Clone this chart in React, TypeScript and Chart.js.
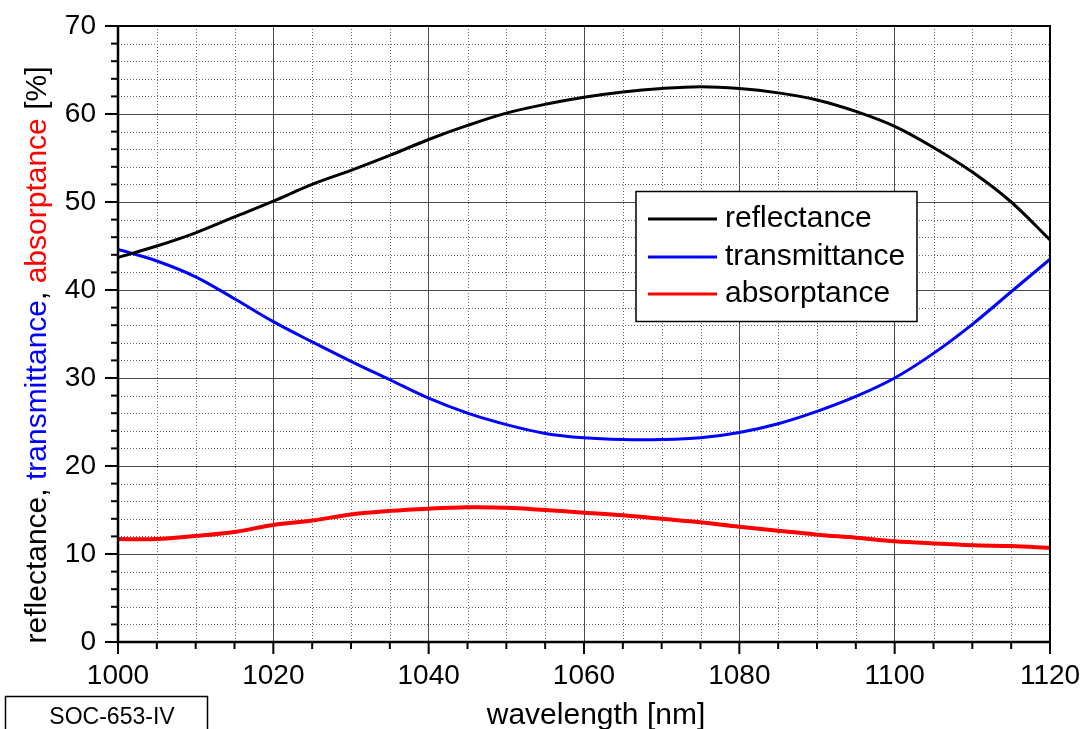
import React, { useEffect, useRef } from 'react';
import { Chart, registerables } from 'chart.js';

Chart.register(...registerables);

// ---- data ----
const wavelengths = [1000, 1005, 1010, 1015, 1020, 1025, 1030, 1035, 1040, 1045, 1050, 1055, 1060, 1065, 1070, 1075, 1080, 1085, 1090, 1095, 1100, 1105, 1110, 1115, 1120];
const reflectance = [43.7, 45.0, 46.5, 48.3, 50.1, 52.0, 53.6, 55.3, 57.1, 58.7, 60.1, 61.1, 61.9, 62.5, 62.9, 63.1, 62.9, 62.4, 61.6, 60.3, 58.6, 56.2, 53.4, 50.0, 45.7];
const transmittance = [44.6, 43.3, 41.5, 39.0, 36.4, 34.1, 31.9, 29.8, 27.7, 26.0, 24.7, 23.7, 23.2, 23.0, 23.0, 23.2, 23.8, 24.8, 26.2, 27.9, 30.0, 32.8, 36.1, 39.8, 43.5];
const absorptance = [11.7, 11.7, 12.05, 12.5, 13.3, 13.8, 14.5, 14.9, 15.15, 15.3, 15.25, 15.0, 14.7, 14.4, 14.0, 13.6, 13.1, 12.65, 12.2, 11.85, 11.45, 11.2, 11.0, 10.9, 10.7];

const seriesLabels = ['reflectance', 'transmittance', 'absorptance'];
const seriesColors = ['#000000', '#0000ff', '#ff0000'];

const xMin = 1000, xMax = 1120, xMajor = 20, xMinor = 5;
const yMin = 0, yMax = 70, yMajor = 10, yMinor = 2;

const xTitle = 'wavelength [nm]';
const yTitleParts = [
  { text: 'reflectance, ', color: '#000000' },
  { text: 'transmittance', color: '#0000ff' },
  { text: ', ', color: '#000000' },
  { text: 'absorptance', color: '#ff0000' },
  { text: ' [%]', color: '#000000' },
];
const sampleName = 'SOC-653-IV';

const FONT = '"Liberation Sans", Arial, sans-serif';

const decorPlugin = {
  id: 'decor',
  beforeDatasetsDraw(chart: any) {
    const { ctx, chartArea: a, scales } = chart;
    const x = scales.x, y = scales.y;
    ctx.save();
    ctx.strokeStyle = '#6a6a6a';
    ctx.lineWidth = 1;
    ctx.setLineDash([1, 2]);
    for (let v = xMin; v <= xMax; v += xMinor) {
      if (v % xMajor === 0) continue;
      const px = Math.round(x.getPixelForValue(v)) + 0.5;
      ctx.beginPath(); ctx.moveTo(px, a.top); ctx.lineTo(px, a.bottom); ctx.stroke();
    }
    for (let v = yMin; v <= yMax; v += yMinor) {
      if (v % yMajor === 0) continue;
      const py = Math.round(y.getPixelForValue(v)) + 0.5;
      ctx.beginPath(); ctx.moveTo(a.left, py); ctx.lineTo(a.right, py); ctx.stroke();
    }
    ctx.restore();
  },
  afterDatasetsDraw(chart: any) {
    const { ctx, chartArea: a, scales } = chart;
    const x = scales.x, y = scales.y;
    ctx.save();
    ctx.setLineDash([]);
    ctx.strokeStyle = '#000';
    ctx.lineWidth = 2;
    ctx.strokeRect(a.left, a.top, a.right - a.left, a.bottom - a.top);
    ctx.lineWidth = 2.5;
    ctx.beginPath(); ctx.moveTo(a.left, a.top - 1); ctx.lineTo(a.left, a.bottom); ctx.lineTo(a.right + 1, a.bottom); ctx.stroke();
    ctx.lineWidth = 2;
    for (let v = xMin; v <= xMax; v += xMinor) {
      const px = x.getPixelForValue(v);
      const len = v % xMajor === 0 ? 12 : 7;
      ctx.beginPath(); ctx.moveTo(px, a.bottom); ctx.lineTo(px, a.bottom + len); ctx.stroke();
    }
    for (let v = yMin; v <= yMax; v += yMinor) {
      const py = y.getPixelForValue(v);
      const len = v % yMajor === 0 ? 13 : 7;
      ctx.beginPath(); ctx.moveTo(a.left, py); ctx.lineTo(a.left - len, py); ctx.stroke();
    }
    ctx.restore();
  },
  afterDraw(chart: any) {
    const { ctx } = chart;
    ctx.save();
    ctx.font = `30px ${FONT}`;
    ctx.textBaseline = 'middle';
    ctx.textAlign = 'left';
    const total = yTitleParts.reduce((s, p) => s + ctx.measureText(p.text).width, 0);
    ctx.translate(38, 355 + total / 2);
    ctx.rotate(-Math.PI / 2);
    let off = 0;
    for (const p of yTitleParts) {
      ctx.fillStyle = p.color;
      ctx.fillText(p.text, off, 0);
      off += ctx.measureText(p.text).width;
    }
    ctx.setTransform(1, 0, 0, 1, 0, 0);
    ctx.fillStyle = '#000';
    ctx.textAlign = 'center';
    ctx.font = `30px ${FONT}`;
    ctx.fillText(xTitle, 596, 716);
    ctx.lineWidth = 1.5;
    ctx.strokeStyle = '#000';
    ctx.strokeRect(5.5, 696.5, 202, 50);
    ctx.font = `23px ${FONT}`;
    ctx.fillText(sampleName, 112, 718);
    const lx = 636, ly = 191.5, lw = 281, lh = 130;
    ctx.fillStyle = '#fff';
    ctx.fillRect(lx, ly, lw, lh);
    ctx.lineWidth = 1.5;
    ctx.strokeRect(lx, ly, lw, lh);
    const rows = [219, 257, 294];
    ctx.font = `30px ${FONT}`;
    ctx.textAlign = 'left';
    chart.data.datasets.forEach((ds: any, i: number) => {
      ctx.strokeStyle = ds.borderColor;
      ctx.lineWidth = 3;
      ctx.beginPath(); ctx.moveTo(648, rows[i]); ctx.lineTo(717, rows[i]); ctx.stroke();
      ctx.fillStyle = '#000';
      ctx.fillText(ds.label, 725, rows[i]);
    });
    ctx.restore();
  },
};

export default function App() {
  const ref = useRef<HTMLCanvasElement>(null);
  useEffect(() => {
    document.body.style.margin = '0';
    const canvas = ref.current!;
    const seriesData = [reflectance, transmittance, absorptance];
    const chart = new Chart(canvas, {
      type: 'line',
      data: {
        datasets: seriesData.map((vals, i) => ({
          label: seriesLabels[i],
          data: wavelengths.map((w, j) => ({ x: w, y: vals[j] })),
          borderColor: seriesColors[i],
          backgroundColor: seriesColors[i],
          borderWidth: i === 2 ? 4 : 3,
          pointRadius: 0,
          tension: 0.35,
          fill: false,
        })),
      },
      options: {
        responsive: false,
        animation: false,
        devicePixelRatio: 1,
        layout: { padding: { top: 26, right: 34, left: 0, bottom: 0 } },
        plugins: { legend: { display: false }, tooltip: { enabled: false } },
        scales: {
          x: {
            type: 'linear',
            min: xMin,
            max: xMax,
            afterFit: (s: any) => { s.height = 87; s.paddingLeft = 0; s.paddingRight = 0; },
            ticks: { stepSize: xMajor, color: '#000', font: { size: 28, family: FONT }, padding: 17, maxRotation: 0, autoSkip: false, callback: (v: any) => String(v) },
            grid: { color: '#4a4a4a', lineWidth: 1, drawTicks: false },
            border: { display: false },
          },
          y: {
            type: 'linear',
            min: yMin,
            max: yMax,
            afterFit: (s: any) => { s.width = 118; s.paddingTop = 0; s.paddingBottom = 0; },
            ticks: { stepSize: yMajor, color: '#000', font: { size: 28, family: FONT }, padding: 22, callback: (v: any) => String(v) },
            grid: { color: '#4a4a4a', lineWidth: 1, drawTicks: false },
            border: { display: false },
          },
        },
      },
      plugins: [decorPlugin],
    } as any);
    return () => chart.destroy();
  }, []);
  return <canvas ref={ref} width={1084} height={729} style={{ display: 'block' }} />;
}
